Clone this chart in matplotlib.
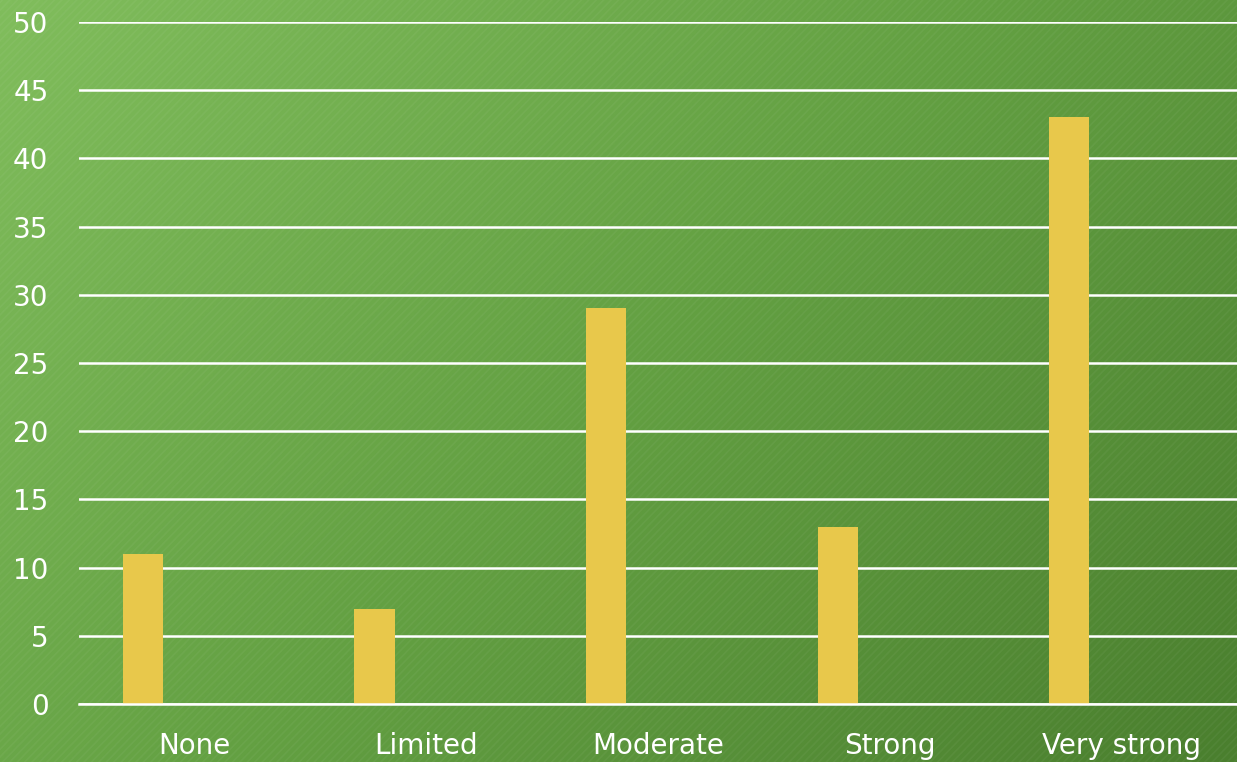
import matplotlib
matplotlib.use("Agg")
import matplotlib.pyplot as plt
import numpy as np
from matplotlib.colors import LinearSegmentedColormap

categories = ["None", "Limited", "Moderate", "Strong", "Very strong"]
values = [11, 7, 29, 13, 43]
yticks = [0, 5, 10, 15, 20, 25, 30, 35, 40, 45, 50]

W, H = 1237, 762
fig = plt.figure(figsize=(W / 100, H / 100), dpi=100)

# diagonal green gradient background
bg = fig.add_axes([0, 0, 1, 1], zorder=0)
yy, xx = np.mgrid[0:1:200j, 0:1:320j]
t = (xx * 0.62 + yy * 0.38)
cmap = LinearSegmentedColormap.from_list("g", ["#80bd5c", "#63a042", "#4a7f2e"])
bg.imshow(t, cmap=cmap, aspect="auto", extent=[0, 1, 0, 1], origin="upper")
# faint diagonal stripes
for k in np.arange(-1.0, 2.0, 0.006):
    bg.plot([k, k + 0.6], [0, 1], color="white", alpha=0.045, lw=1.2)
bg.set_xlim(0, 1); bg.set_ylim(0, 1)
bg.axis("off")

ax = fig.add_axes([79 / W, 58 / H, 1 - 79 / W, 682 / H], zorder=1)
ax.patch.set_alpha(0)
x = np.arange(len(categories))
ax.bar(x - 0.224, values, width=0.173, color="#e8c84b", zorder=2)
ax.axhline(0, color="white", lw=1.8, zorder=3, clip_on=False)

ax.set_xlim(-0.5, 4.5)
ax.set_ylim(0, 50)
ax.set_yticks(yticks)
ax.set_xticks(x)
ax.set_xticklabels(categories)
ax.yaxis.grid(True, color="white", lw=1.8, zorder=1)
ax.set_axisbelow(True)
for s in ax.spines.values():
    s.set_visible(False)
ax.tick_params(axis="both", length=0, colors="white", labelsize=20)
ax.tick_params(axis="y", pad=22)
ax.tick_params(axis="x", pad=20)

fig.savefig("out.png", dpi=100)
